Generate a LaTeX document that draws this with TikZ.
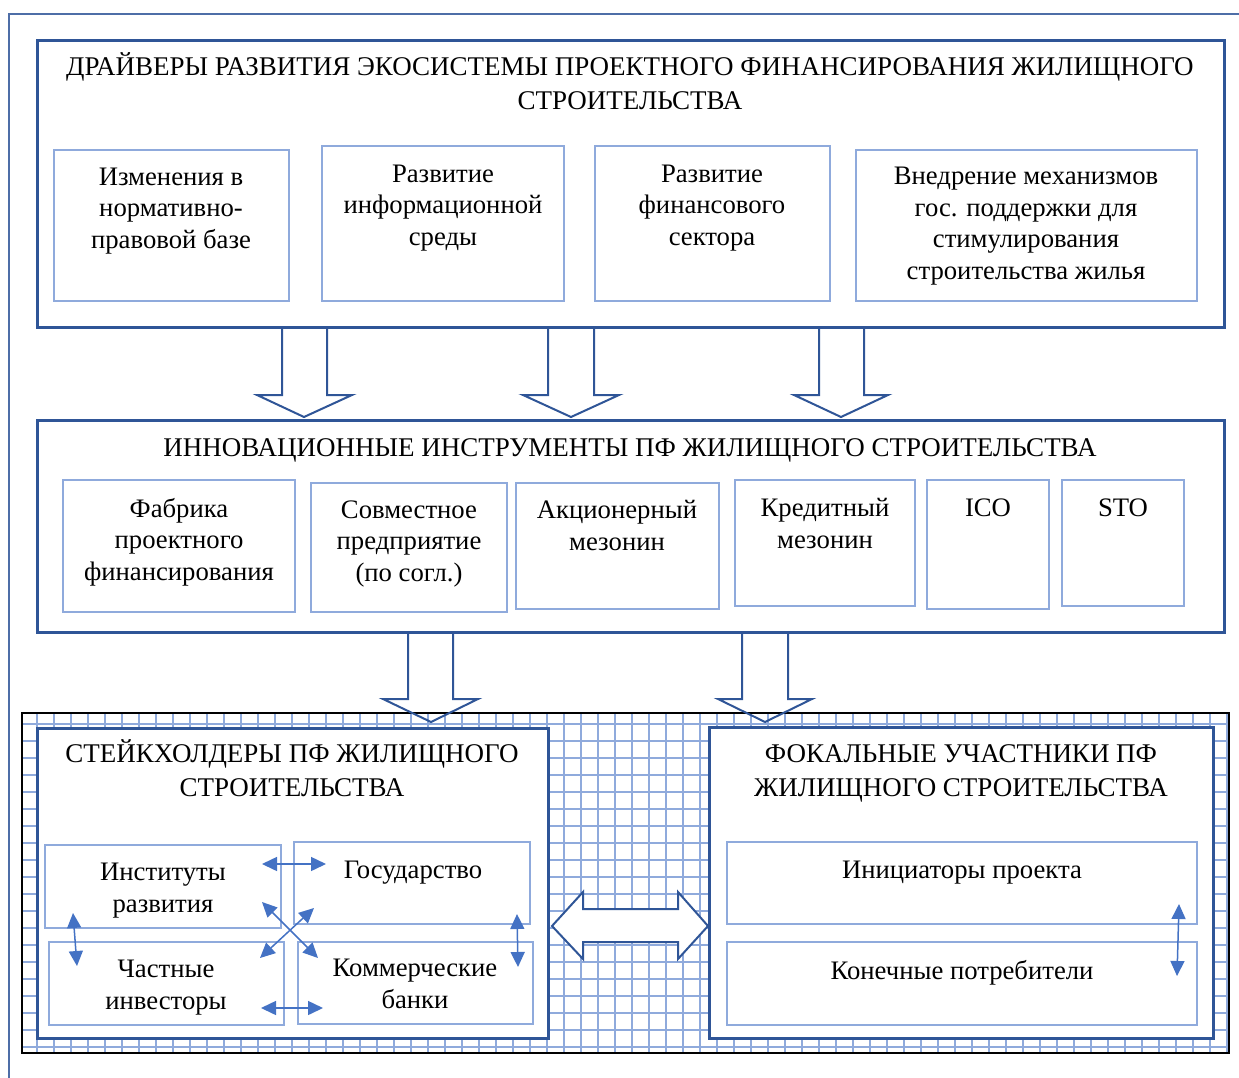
\documentclass[tikz,border=0pt]{standalone}
\usepackage{fontspec}
\setmainfont{Liberation Serif}
\usetikzlibrary{arrows.meta, fit}
\definecolor{dblue}{HTML}{2F5597}
\definecolor{lblue}{HTML}{8FAADC}
\definecolor{mblue}{HTML}{4472C4}

\begin{document}
\begin{tikzpicture}[x=1pt, y=-1pt,
    frame/.style={draw=dblue, line width=3, fill=white, inner sep=0},
    box/.style={draw=lblue, line width=2.2, fill=white, inner sep=0},
    ttl/.style={font=\fontsize{27}{34}\selectfont, align=center, anchor=base, inner sep=0},
    txt/.style={font=\fontsize{26.7}{31.5}\selectfont, align=center, anchor=base, inner sep=0},
    blk/.style={draw=dblue, line width=2, line join=miter},
    dbl/.style={draw=mblue, line width=1.5, {Triangle[length=15, width=14]}-{Triangle[length=15, width=14]}}]
  \useasboundingbox (0,0) rectangle (1239,1078);
  \draw[dblue!85, line width=2] (9,1078) -- (9,14) -- (1239,14);

  \foreach \x in {37,54,...,1228} \draw[lblue, line width=1.2] (\x,713) -- (\x,1053);
  \foreach \y in {724,741,...,1052} \draw[lblue, line width=1.2] (22,\y) -- (1229,\y);
  \node[draw=black, line width=2, inner sep=0, fit={(22,713) (1229,1053)}] (grd) {};

  \node[frame, fit={(37,41) (1224,327)}] (drv) {};
  \node[ttl] (drvt) at (630,110) {ДРАЙВЕРЫ РАЗВИТИЯ ЭКОСИСТЕМЫ ПРОЕКТНОГО ФИНАНСИРОВАНИЯ ЖИЛИЩНОГО\\СТРОИТЕЛЬСТВА};
  \node[box, fit={(54,150) (289,301)}] (izm) {};
  \node[txt] (izmt) at (171,248) {Изменения в\\нормативно-\\правовой базе};
  \node[box, fit={(322,146) (564,301)}] (inf) {};
  \node[txt] (inft) at (443,245) {Развитие\\информационной\\среды};
  \node[box, fit={(595,146) (830,301)}] (fin) {};
  \node[txt] (fint) at (712,245) {Развитие\\финансового\\сектора};
  \node[box, fit={(856,150) (1197,301)}] (gos) {};
  \node[txt] (gost) at (1026,279) {Внедрение механизмов\\гос. поддержки для\\стимулирования\\строительства жилья};

  \draw[blk] (282,327) -- (282,395) -- (257,395) -- (304,417) -- (352,395) -- (327,395) -- (327,327);
  \draw[blk] (548,327) -- (548,395) -- (523,395) -- (571,417) -- (619,395) -- (594,395) -- (594,327);
  \draw[blk] (819,327) -- (819,395) -- (794,395) -- (841,417) -- (888,395) -- (864,395) -- (864,327);

  \node[frame, fit={(37,420) (1224,632)}] (inno) {};
  \node[ttl] (innot) at (630,456) {ИННОВАЦИОННЫЕ ИНСТРУМЕНТЫ ПФ ЖИЛИЩНОГО СТРОИТЕЛЬСТВА};
  \node[box, fit={(63,480) (295,612)}] (fab) {};
  \node[txt] (fabt) at (179,580) {Фабрика\\проектного\\финансирования};
  \node[box, fit={(311,483) (507,612)}] (sov) {};
  \node[txt] (sovt) at (409,581) {Совместное\\предприятие\\(по согл.)};
  \node[box, fit={(516,483) (719,609)}] (akc) {};
  \node[txt] (akct) at (617,550) {Акционерный\\мезонин};
  \node[box, fit={(735,480) (915,606)}] (kre) {};
  \node[txt] (kret) at (825,548) {Кредитный\\мезонин};
  \node[box, fit={(927,480) (1049,609)}] (ico) {};
  \node[txt] (icot) at (988,516) {ICO};
  \node[box, fit={(1062,480) (1184,606)}] (sto) {};
  \node[txt] (stot) at (1123,516) {STO};

  \draw[blk] (408,632) -- (408,699) -- (383,699) -- (431,722) -- (478,699) -- (453,699) -- (453,632);
  \draw[blk] (742,632) -- (742,699) -- (718,699) -- (765,722) -- (812,699) -- (788,699) -- (788,632);

  \node[frame, fit={(37,728) (548,1038)}] (stk) {};
  \node[ttl] (stkt) at (292,796) {СТЕЙКХОЛДЕРЫ ПФ ЖИЛИЩНОГО\\СТРОИТЕЛЬСТВА};
  \node[box, fit={(45,845) (281,928)}] (ins) {};
  \node[txt] (inst) at (163,912) {Институты\\развития};
  \node[box, fit={(294,842) (530,924)}] (gsd) {};
  \node[txt] (gsdt) at (413,878) {Государство};
  \node[box, fit={(49,942) (284,1025)}] (cha) {};
  \node[txt] (chat) at (166,1009) {Частные\\инвесторы};
  \node[box, fit={(298,942) (533,1024)}] (kom) {};
  \node[txt] (komt) at (415,1008) {Коммерческие\\банки};

  \node[frame, fit={(709,727) (1213,1038)}] (foc) {};
  \node[ttl] (foct) at (961,796) {ФОКАЛЬНЫЕ УЧАСТНИКИ ПФ\\ЖИЛИЩНОГО СТРОИТЕЛЬСТВА};
  \node[box, fit={(727,842) (1197,924)}] (iniz) {};
  \node[txt] (inizt) at (962,878) {Инициаторы проекта};
  \node[box, fit={(727,942) (1197,1025)}] (kon) {};
  \node[txt] (kont) at (962,979) {Конечные потребители};

  \draw[blk, fill=white] (552,926) -- (583,892) -- (583,909) -- (678,909) -- (678,892) -- (708,926)
    -- (678,959) -- (678,942) -- (583,942) -- (583,959) -- cycle;

  \coordinate (a1) at (262,864);  \coordinate (a2) at (326,864);
  \coordinate (b1) at (261,1008); \coordinate (b2) at (323,1008);
  \coordinate (c1) at (73,913);   \coordinate (c2) at (77,966);
  \coordinate (d1) at (517,914);  \coordinate (d2) at (518,967);
  \coordinate (e1) at (262,902);  \coordinate (e2) at (318,958);
  \coordinate (f1) at (314,908);  \coordinate (f2) at (260,958);
  \coordinate (g1) at (1179,904); \coordinate (g2) at (1177,976);
  \draw[dbl] (a1) -- (a2);
  \draw[dbl] (b1) -- (b2);
  \draw[dbl] (c1) -- (c2);
  \draw[dbl] (d1) -- (d2);
  \draw[dbl] (e1) -- (e2);
  \draw[dbl] (f1) -- (f2);
  \draw[dbl] (g1) -- (g2);
\end{tikzpicture}
\end{document}
